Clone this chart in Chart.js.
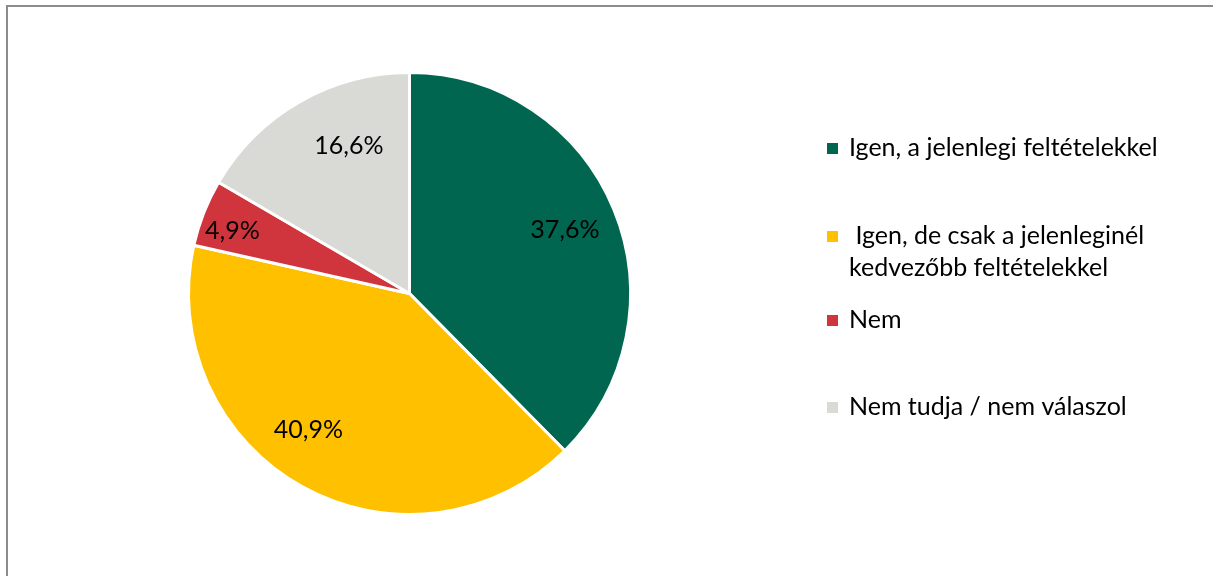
<!DOCTYPE html>
<html lang="hu">
<head>
<meta charset="utf-8">
<script src="https://cdn.jsdelivr.net/npm/chart.js@4/dist/chart.umd.min.js"></script>
<style>
  html, body { margin: 0; padding: 0; background: #fff; overflow: hidden; }
  .frame {
    position: absolute; left: 6px; top: 5px;
    width: 1240px; height: 620px;
    border: 2px solid #8c8c8c; box-sizing: border-box;
  }
  #wrap { position: absolute; left: 0; top: 0; width: 1213px; height: 576px; }
</style>
</head>
<body>
<div class="frame"></div>
<div id="wrap"><canvas id="pie"></canvas></div>
<script>
const labels = [
  "Igen, a jelenlegi feltételekkel",
  [" Igen, de csak a jelenleginél", "kedvezőbb feltételekkel"],
  "Nem",
  "Nem tudja / nem válaszol"
];
const values = [37.6, 40.9, 4.9, 16.6];
const colors = ["#00664f", "#ffc000", "#d0353d", "#d9d9d5"];

const FONT = "Lato, 'Open Sans', sans-serif";

// percentage labels inside each slice (small nudges keep them in the roomy part)
const sliceLabels = {
  id: "sliceLabels",
  afterDatasetsDraw(chart) {
    const ctx = chart.ctx;
    const meta = chart.getDatasetMeta(0);
    const nudge = [0, 7.5, -2, 7.5];
    const dist = [0.76, 0.77, 0.85, 0.72];
    ctx.save();
    ctx.font = "25px " + FONT;
    ctx.fillStyle = "#000";
    ctx.textAlign = "center";
    ctx.textBaseline = "middle";
    meta.data.forEach((arc, i) => {
      const { x, y, startAngle, endAngle, outerRadius } = arc.getProps(
        ["x", "y", "startAngle", "endAngle", "outerRadius"], true);
      const mid = (startAngle + endAngle) / 2 + nudge[i] * Math.PI / 180;
      const r = outerRadius * dist[i];
      const txt = values[i].toFixed(1).replace(".", ",") + "%";
      ctx.fillText(txt, x + Math.cos(mid) * r, y + Math.sin(mid) * r);
    });
    ctx.restore();
  }
};

// legend on the right, drawn by hand so multi-line entries sit like the original
const sideLegend = {
  id: "sideLegend",
  afterDraw(chart) {
    const ctx = chart.ctx;
    const rowsY = [148, 236, 320, 407];
    const lineGap = 32;
    ctx.save();
    ctx.font = "25px " + FONT;
    ctx.textBaseline = "middle";
    ctx.textAlign = "left";
    labels.forEach((lab, i) => {
      const y = rowsY[i];
      ctx.fillStyle = colors[i];
      ctx.fillRect(827, y - 5, 11, 11);
      ctx.fillStyle = "#000";
      const lines = Array.isArray(lab) ? lab : [lab];
      lines.forEach((ln, k) => ctx.fillText(ln, 849, y + k * lineGap));
    });
    ctx.restore();
  }
};

new Chart(document.getElementById("pie"), {
  type: "pie",
  data: {
    labels: labels.map(l => Array.isArray(l) ? l.join(" ") : l),
    datasets: [{
      data: values,
      backgroundColor: colors,
      borderColor: "#ffffff",
      borderWidth: 3
    }]
  },
  options: {
    responsive: true,
    maintainAspectRatio: false,
    animation: false,
    layout: { padding: { left: 187, right: 581, top: 71, bottom: 60 } },
    plugins: {
      legend: { display: false },
      tooltip: { enabled: false }
    }
  },
  plugins: [sliceLabels, sideLegend]
});
</script>
</body>
</html>
